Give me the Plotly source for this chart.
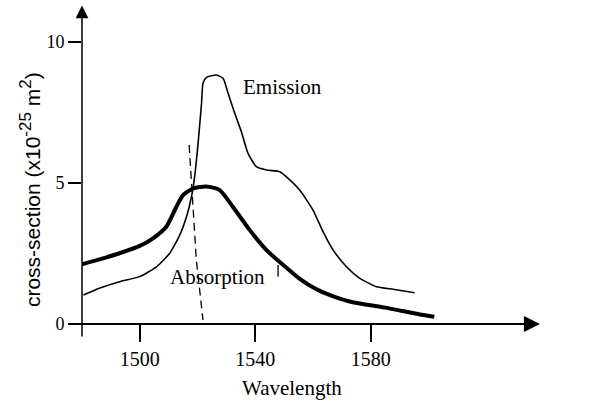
import plotly.graph_objects as go

# ---- data ----
abs_wl = [1480, 1486, 1493, 1500, 1504.6, 1509.2, 1512.7, 1515, 1518.5, 1523,
          1527.7, 1532.3, 1538.1, 1543.9, 1549.6, 1555.4, 1561.2, 1567, 1573,
          1579, 1585, 1591, 1597, 1602]
abs_val = [2.12, 2.29, 2.51, 2.77, 3.04, 3.45, 4.16, 4.57, 4.81, 4.88,
           4.75, 4.15, 3.33, 2.62, 2.10, 1.60, 1.23, 0.98, 0.79,
           0.68, 0.58, 0.46, 0.34, 0.26]

em_wl = [1480.5, 1486, 1493, 1500, 1505.8, 1510.4, 1513.9, 1516.2, 1517.9, 1519,
         1520.2, 1521.4, 1521.9, 1523.1, 1526.6, 1528.9, 1530.6, 1532.9, 1535.2,
         1537.5, 1540.4, 1543.9, 1548.5, 1550.8, 1555.4, 1560, 1563.5, 1567,
         1571.6, 1576.2, 1582, 1587.7, 1595.2]
em_val = [1.03, 1.27, 1.50, 1.68, 2.03, 2.51, 3.16, 3.80, 4.51, 5.22,
          6.41, 7.83, 8.54, 8.75, 8.83, 8.71, 8.18, 7.47, 6.82,
          6.05, 5.58, 5.46, 5.40, 5.22, 4.75, 4.04, 3.27, 2.62,
          2.03, 1.62, 1.32, 1.23, 1.11]

dash_wl = [1517.1, 1518.2, 1519.6, 1521.9]
dash_val = [6.35, 4.40, 2.27, 0.14]

mark_wl = [1547.9, 1547.9]
mark_val = [2.09, 1.68]

x_ticks = [1500, 1540, 1580]
y_ticks = [0, 5, 10]
y_ticktext = ["0", "5", "10"]

x_range = [1480, 1640]
y_range = [0, 11.42]

serif = "Liberation Serif"
sans = "Liberation Sans"

fig = go.Figure()
fig.add_trace(go.Scatter(x=abs_wl, y=abs_val, mode="lines",
                         line=dict(color="black", width=4, shape="spline", smoothing=0.6),
                         name="Absorption", showlegend=False))
fig.add_trace(go.Scatter(x=em_wl, y=em_val, mode="lines",
                         line=dict(color="black", width=1.6, shape="spline", smoothing=0.5),
                         name="Emission", showlegend=False))
fig.add_trace(go.Scatter(x=dash_wl, y=dash_val, mode="lines",
                         line=dict(color="black", width=1.3, dash="8px,5px"),
                         showlegend=False))
fig.add_trace(go.Scatter(x=mark_wl, y=mark_val, mode="lines",
                         line=dict(color="black", width=1.3), showlegend=False))

# axis arrows
fig.add_annotation(x=1638.6, y=0, ax=1475, ay=0, xref="x", yref="y", axref="x", ayref="y",
                   text="", showarrow=True, arrowhead=2, arrowsize=1.6, arrowwidth=2,
                   arrowcolor="black", standoff=0)
fig.add_annotation(x=1480, y=11.3, ax=1480, ay=-0.5, xref="x", yref="y", axref="x", ayref="y",
                   text="", showarrow=True, arrowhead=2, arrowsize=1.7, arrowwidth=1.5,
                   arrowcolor="black", standoff=0)

# labels
fig.add_annotation(x=1549.5, y=8.40, text="Emission", showarrow=False,
                   font=dict(family=serif, size=21, color="black"))
fig.add_annotation(x=1527.0, y=1.67, text="Absorption", showarrow=False,
                   font=dict(family=serif, size=21, color="black"))
fig.add_annotation(x=1552.6, y=0, yref="y", yshift=-64, text="Wavelength", showarrow=False,
                   font=dict(family=serif, size=21, color="black"))
fig.add_annotation(x=1648.6, y=0.25, text="nm", showarrow=False,
                   font=dict(family=sans, size=19, color="black"))
fig.add_annotation(x=0, xref="paper", xshift=-52, y=0.416, yref="paper",
                   xanchor="center", yanchor="middle",
                   text="cross-section (x10<sup><span style='font-size:17px'>-25</span></sup>"
                        " m<sup><span style='font-size:17px'>2</span></sup>)",
                   textangle=-90, showarrow=False,
                   font=dict(family=sans, size=21, color="black"))

fig.update_xaxes(range=x_range, tickvals=x_ticks, ticks="outside", ticklen=17, tickwidth=1.5,
                 tickcolor="black", showgrid=False, zeroline=False, showline=False,
                 tickfont=dict(family=serif, size=20, color="black"))
fig.update_yaxes(range=y_range, tickvals=y_ticks, ticktext=y_ticktext, ticks="outside",
                 ticklen=13, tickwidth=2, tickcolor="black", showgrid=False, zeroline=False,
                 showline=False, tickfont=dict(family=serif, size=18, color="black"))

fig.update_layout(width=591, height=401, margin=dict(l=82, r=47, t=2, b=77),
                  plot_bgcolor="white", paper_bgcolor="white", showlegend=False)

fig.write_html("out.html", config={"displayModeBar": False},
               post_script="document.body.style.margin='0px';")
